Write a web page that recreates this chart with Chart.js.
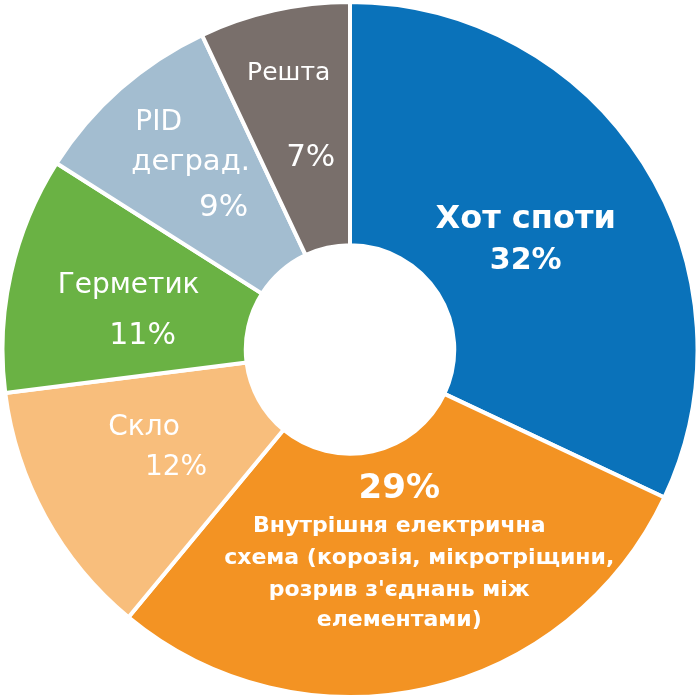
<!DOCTYPE html>
<html>
<head>
<meta charset="utf-8">
<script src="https://cdn.jsdelivr.net/npm/chart.js@4.4.0/dist/chart.umd.min.js"></script>
<style>
  body { margin: 0; background: #fff; }
  #wrap { width: 700px; height: 699px; position: relative; }
</style>
</head>
<body>
<div id="wrap"><canvas id="pie"></canvas></div>
<script>
// slice names, split the way they are printed on the picture
var nameLines = [
    ['Хот споти'],
    ['Внутрішня електрична', 'схема (корозія, мікротріщини,', "розрив з'єднань між", 'елементами)'],
    ['Скло'],
    ['Герметик'],
    ['PID', 'деград.'],
    ['Решта']
];
var categories = nameLines.map(function(l){ return l.join(' '); });
var shares = [32, 29, 12, 11, 9, 7];   // %
var colors = ['#0a72ba', '#f39323', '#f8be7c', '#6ab244', '#a3bdd0', '#796f6b'];

var FONT = '"DejaVu Sans", sans-serif';

// how each label is laid out round the middle of its slice
// n = name line index, p = percentage
var labelLayout = [
    [{n:0, f:'bold 32px', dx:-15, dy:-9}, {p:1, f:'bold 30px', dx:-15, dy:33}],
    [{p:1, f:'bold 34px', dx:0, dy:-81},
     {n:0, f:'bold 22px', dx:0, dy:-44},
     {n:1, f:'bold 22px', dx:20, dy:-12},
     {n:2, f:'bold 22px', dx:0, dy:20},
     {n:3, f:'bold 22px', dx:0, dy:50}],
    [{n:0, f:'28px', dx:-8, dy:-31}, {p:1, f:'28px', dx:24, dy:9}],
    [{n:0, f:'28px', dx:-1, dy:-15}, {p:1, f:'30px', dx:13, dy:36}],
    [{n:0, f:'28px', dx:-42, dy:-57}, {n:1, f:'29px', dx:-10, dy:-18}, {p:1, f:'31px', dx:23, dy:28}],
    [{n:0, f:'25px', dx:-12, dy:-56}, {p:1, f:'31px', dx:10, dy:29}]
];

var sliceLabels = {
    id: 'sliceLabels',
    afterDatasetsDraw: function(chart) {
        var ctx = chart.ctx;
        var meta = chart.getDatasetMeta(0);
        ctx.save();
        ctx.fillStyle = '#fff';
        ctx.textAlign = 'center';
        ctx.textBaseline = 'middle';
        meta.data.forEach(function(arc, i) {
            var c = arc.getCenterPoint();
            labelLayout[i].forEach(function(s) {
                var txt = s.p ? shares[i] + '%' : nameLines[i][s.n];
                ctx.font = s.f + ' ' + FONT;
                ctx.fillText(txt, c.x + s.dx, c.y + s.dy);
            });
        });
        ctx.restore();
    }
};

var ctx1 = document.getElementById('pie').getContext('2d');
var myChart = new Chart(ctx1, {
    type: 'doughnut',
    data: {
        labels: categories,
        datasets: [{
            data: shares,
            backgroundColor: colors,
            borderColor: '#ffffff',
            borderWidth: 4
        }]
    },
    options: {
        responsive: true,
        maintainAspectRatio: false,
        animation: false,
        cutout: '30%',
        layout: { padding: 0 },
        plugins: {
            legend: { display: false },
            tooltip: { enabled: false }
        }
    },
    plugins: [sliceLabels]
});
</script>
</body>
</html>
